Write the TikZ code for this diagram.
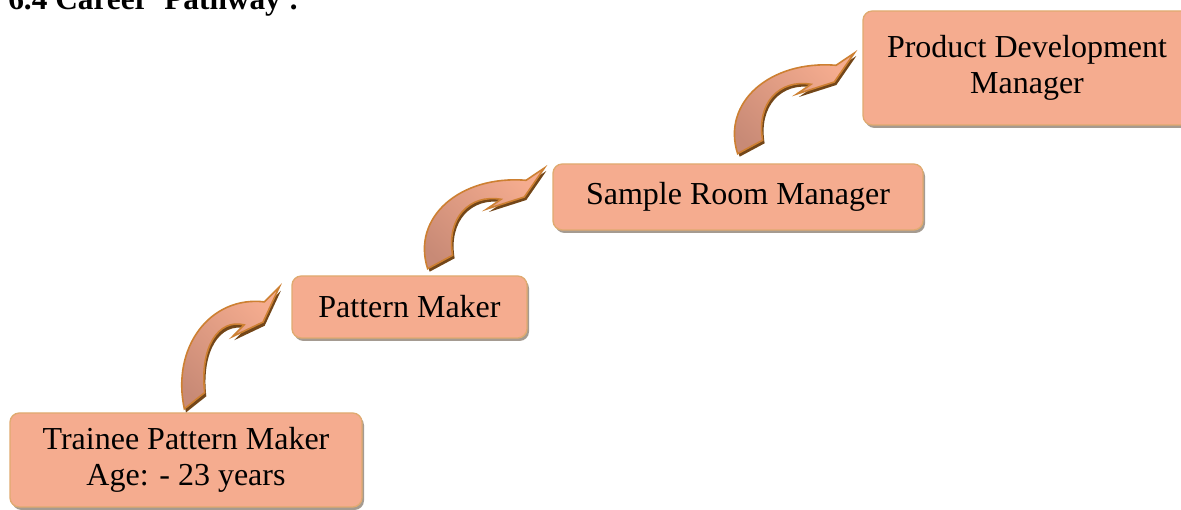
\documentclass[tikz,border=0pt]{standalone}
\usepackage{fontspec}
\setmainfont{Liberation Serif}
\usetikzlibrary{calc,positioning,shadows}
\definecolor{boxfill}{RGB}{245,172,143}
\definecolor{boxline}{RGB}{224,170,112}
\definecolor{boxshade}{RGB}{165,155,145}
\definecolor{headfill}{RGB}{245,172,143}
\definecolor{tailfill}{RGB}{200,138,118}
\definecolor{arrowline}{RGB}{205,128,50}
\definecolor{arrowshade}{RGB}{115,70,25}
\newcommand{\bendpath}{(0,0) -- (-20,-29) -- (-57.5,-41) -- (-43.3,-31.3)
    .. controls (-75,-26) and (-98,-50) .. (-91.7,-87.3) -- (-116.7,-100.7)
    .. controls (-133,-50) and (-85,-7) .. (-18.3,-12.3) -- cycle}
\tikzset{
    x=0.75pt, y=0.75pt,
    stage/.style ={rectangle, rounded corners=7pt, draw=boxline, line width=1pt,
        fill=boxfill, align=center, font=\fontsize{24pt}{27.5pt}\selectfont,
        drop shadow={shadow xshift=1.5pt, shadow yshift=-2.2pt, fill=boxshade, opacity=1}},
    climb/.pic ={
        \fill[arrowshade] [shift={(2,-3)}] \bendpath;
        \draw[arrowline, line width=1.2pt, top color=headfill, bottom color=tailfill,
            shading angle=-45] \bendpath;
    }
}

\begin{document}
\begin{tikzpicture}
    \useasboundingbox (0,0) rectangle (1181,510);
    \node[anchor=base west, inner sep=0, font=\bfseries\fontsize{23.5pt}{26pt}\selectfont]
        (title) at (8,500) {6.4 Career~ Pathway :};

    \node[stage, minimum width=264pt, minimum height=70.5pt] (trainee) at (186,50)
        {Trainee Pattern Maker\\Age: - 23 years};
    \node[stage, minimum width=176.25pt, minimum height=46.5pt] (pattern) at (409.5,203)
        {Pattern Maker};
    \node[stage, minimum width=277.5pt, minimum height=49.5pt] (sample) at (738,313)
        {Sample Room Manager};
    \node[stage, minimum width=246pt, minimum height=85.5pt] (product) at (1027,442)
        {Product Development\\Manager};

    \pic[xscale=0.814, yscale=1.21] at ($(pattern.west)+(-12,20)$) {climb};
    \pic at ($(sample.west)+(-8,29)$) {climb};
    \pic at ($(product.west)+(-8,15)$) {climb};
\end{tikzpicture}
\end{document}
